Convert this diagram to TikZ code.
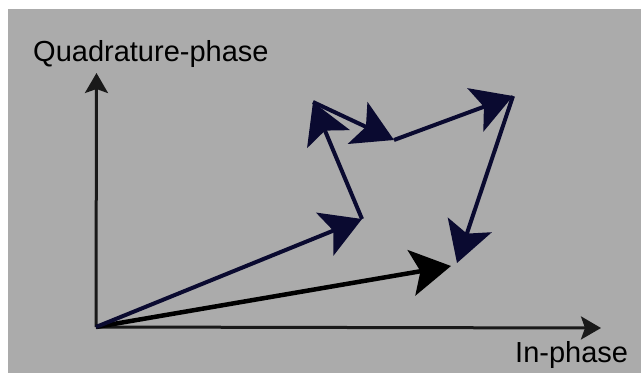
\documentclass[tikz,border=0pt]{standalone}
\usepackage{fontspec}
\setmainfont{Liberation Sans}
\usetikzlibrary{arrows.meta}
\definecolor{bggray}{RGB}{171,171,171}
\definecolor{navyvec}{RGB}{10,10,48}
\definecolor{axisgray}{RGB}{25,25,25}
\begin{document}
\begin{tikzpicture}[x=1pt,y=-1pt,
  axisline/.style={line width=3pt, draw=axisgray, -{Stealth[length=20pt,width=23pt,inset=4pt]}},
  vec/.style={line width=4pt, draw=navyvec, -{Stealth[length=40pt,width=46pt,inset=9pt]}},
  resvec/.style={line width=4.5pt, draw=black, -{Stealth[length=40pt,width=46pt,inset=9pt]}},
  lbl/.style={font=\fontsize{29}{34}\selectfont, inner sep=0pt, text=black}]
\useasboundingbox (0,0) rectangle (641,383);
\fill[white] (0,0) rectangle (641,383);
\fill[bggray] (8,9) rectangle (641,373);
\coordinate (O) at (96,327);
\coordinate (ytip) at (96.5,73);
\coordinate (xtip) at (601,328);
\coordinate (p1) at (362,219);
\coordinate (p2) at (313,102);
\coordinate (p3) at (394,140);
\coordinate (p4) at (513,96);
\coordinate (p5) at (457,263);
\coordinate (r) at (451,266);
\draw[axisline] (O) -- (ytip);
\draw[axisline] (O) -- (xtip);
\draw[resvec] (O) -- (r);
\draw[vec] (O) -- (p1);
\draw[vec] (p1) -- (p2);
\draw[vec] (p2) -- (p3);
\draw[vec] (p3) -- (p4);
\draw[vec] (p4) -- (p5);
\node[lbl, anchor=base west] (qlabel) at (33,61) {Quadrature-phase};
\node[lbl, anchor=base west] (ilabel) at (515,362) {In-phase};
\end{tikzpicture}
\end{document}
